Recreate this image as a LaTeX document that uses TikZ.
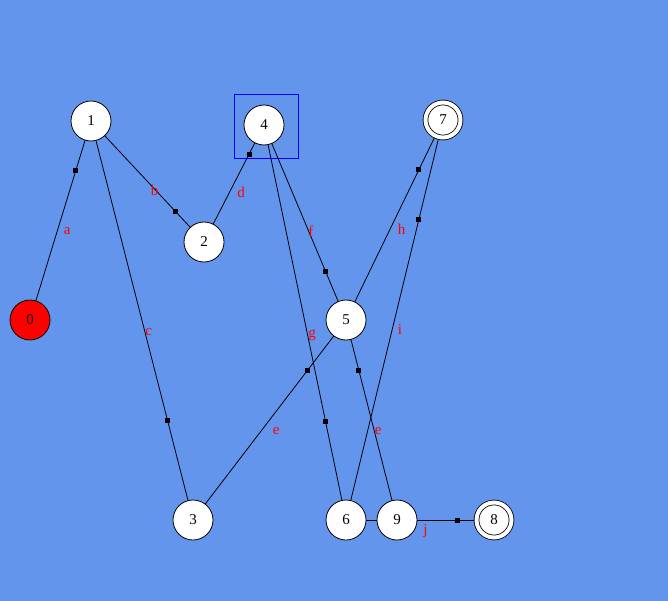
\documentclass[tikz,border=0pt]{standalone}
\usepackage{fontspec}
\setmainfont{Liberation Serif}
\usepackage{xcolor}
\usepackage{tikz}
\definecolor{bg}{HTML}{6495ED}
\definecolor{lblred}{HTML}{FF0000}
\definecolor{startred}{HTML}{FF0000}
\definecolor{hiblue}{HTML}{0000FF}
\pgfdeclarelayer{canvas}
\pgfdeclarelayer{edges}
\pgfsetlayers{canvas,edges,main}
\tikzset{
  stateNode/.style={circle, draw=black, fill=white, line width=0.8pt, minimum size=40pt, inner sep=0pt, font=\fontsize{15}{17}\selectfont},
  startNode/.style={stateNode, fill=startred},
  finalNode/.style={stateNode, double=white, double distance=4pt, minimum size=35pt},
  hiBox/.style={rectangle, draw=hiblue, line width=0.8pt, minimum size=64pt, inner sep=0pt},
  trans/.style={draw=black, line width=0.8pt},
  tick/.style={rectangle, fill=black, minimum size=5pt, inner sep=0pt},
  edgeLbl/.style={text=lblred, font=\fontsize{15}{17}\selectfont, anchor=base west, inner sep=0pt, xshift=3pt, yshift=-14.5pt},
}
\newcommand{\PlaceStates}{%
  \node[startNode] (s0) at (30,320) {0};
  \node[stateNode] (s1) at (91,121) {1};
  \node[stateNode] (s2) at (204,242) {2};
  \node[stateNode] (s3) at (193,520) {3};
  \node[stateNode] (s4) at (264,125) {4};
  \node[stateNode] (s5) at (346,320) {5};
  \node[stateNode] (s6) at (346,520) {6};
  \node[finalNode] (s7) at (443,120) {7};
  \node[finalNode] (s8) at (494,520) {8};
  \node[stateNode] (s9) at (397,520) {9};
}
\begin{document}
\begin{tikzpicture}[x=1pt, y=-1pt]
  \begin{pgfonlayer}{canvas}
    \fill[bg] (0,0) rectangle (668,601);
  \end{pgfonlayer}
  \useasboundingbox (0,0) rectangle (668,601);

  \PlaceStates
  \node[hiBox] (box4) at (266,126) {};

  \begin{pgfonlayer}{edges}
    \draw[trans] (s0.center) -- node[tick, pos=0.75] {} node[edgeLbl] {a} (s1.center);
    \draw[trans] (s1.center) -- node[tick, pos=0.75] {} node[edgeLbl] {b} (s2.center);
    \draw[trans] (s1.center) -- node[tick, pos=0.75] {} node[edgeLbl] {c} (s3.center);
    \draw[trans] (s2.center) -- node[tick, pos=0.75] {} node[edgeLbl] {d} (s4.center);
    \draw[trans] (s3.center) -- node[tick, pos=0.75] {} node[edgeLbl] {e} (s5.center);
    \draw[trans] (s4.center) -- node[tick, pos=0.75] {} node[edgeLbl] {f} (s5.center);
    \draw[trans] (s4.center) -- node[tick, pos=0.75] {} node[edgeLbl] {g} (s6.center);
    \draw[trans] (s5.center) -- node[tick, pos=0.75] {} node[edgeLbl] {h} (s7.center);
    \draw[trans] (s6.center) -- node[tick, pos=0.75] {} node[edgeLbl] {i} (s7.center);
    \draw[trans] (s9.center) -- node[tick, pos=0.75] {} node[edgeLbl] {e} (s5.center);
    \draw[trans] (s6.center) -- node[tick, pos=0.75] {} node[edgeLbl] {j} (s8.center);
  \end{pgfonlayer}
\end{tikzpicture}
\end{document}
